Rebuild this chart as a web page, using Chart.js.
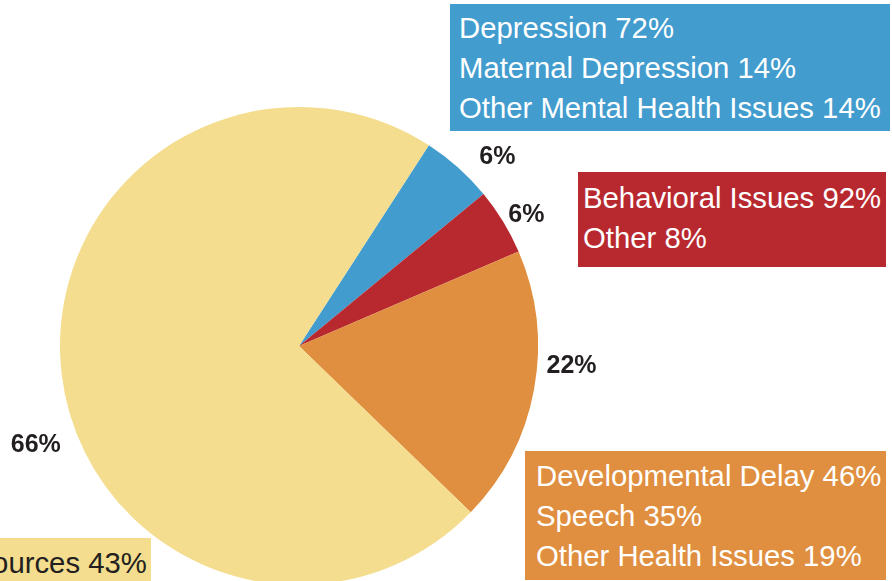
<!DOCTYPE html>
<html>
<head>
<meta charset="utf-8">
<script src="https://cdn.jsdelivr.net/npm/chart.js@4"></script>
<style>
  html, body { margin: 0; padding: 0; background: #fff; }
  body { width: 892px; height: 581px; overflow: hidden; position: relative; font-family: "Liberation Sans", Arial, sans-serif; }
  #wrap { position: absolute; left: 0; top: 0; width: 892px; height: 700px; }
  .callout { position: absolute; color: #fff; font-size: 29.3px; line-height: 40px; white-space: nowrap; box-sizing: border-box; }
  .callout.dark { color: #231f20; }
</style>
</head>
<body>
<div id="wrap"><canvas id="pie" width="892" height="700"></canvas></div>
<div class="callout" id="box-blue" style="left:450px;top:4px;width:440px;height:127px;padding:4px 0 0 9px;"></div>
<div class="callout" id="box-red" style="left:578px;top:172px;width:308px;height:95px;padding:6px 0 0 5px;"></div>
<div class="callout" id="box-orange" style="left:525px;top:451px;width:361px;height:129px;padding:5px 0 0 11px;"></div>
<div class="callout dark" id="box-yellow" style="left:-60px;top:538px;width:211px;height:60px;padding:5px 6px 0 0;text-align:right;"></div>

<script>
// slices, clockwise from the blue one
const categories = ['Mental Health', 'Behavioral', 'Health & Development', 'Resources']
const sliceValues = [4.9, 4.5, 18.7, 71.9]
const sliceLabels = ['6%', '6%', '22%', '66%']
const sliceColors = ['#429cce', '#b8282f', '#e08f40', '#f4dd8e']

// breakdown text in the boxes
const mentalHealthLines = ['Depression 72%', 'Maternal Depression 14%', 'Other Mental Health Issues 14%']
const behavioralLines = ['Behavioral Issues 92%', 'Other 8%']
const developmentLines = ['Developmental Delay 46%', 'Speech 35%', 'Other Health Issues 19%']
const resourceLines = ['Resources 43%']

// fill the boxes
const boxes = [
  ['box-blue', mentalHealthLines, 0],
  ['box-red', behavioralLines, 1],
  ['box-orange', developmentLines, 2],
  ['box-yellow', resourceLines, 3]
]
boxes.forEach(([id, lines, i]) => {
  const el = document.getElementById(id)
  el.style.background = sliceColors[i]
  lines.forEach(t => {
    const d = document.createElement('div')
    d.textContent = t
    el.appendChild(d)
  })
})

// label nudges (px) from the default outside point
const labelNudge = [[18, 13], [-4, 10], [6, -29], [6, 68]]

const outsideLabels = {
  id: 'outsideLabels',
  afterDatasetsDraw(chart) {
    const ctx = chart.ctx
    const arcs = chart.getDatasetMeta(0).data
    ctx.save()
    ctx.font = 'bold 25px "Liberation Sans", Arial, sans-serif'
    ctx.fillStyle = '#231f20'
    ctx.textAlign = 'center'
    ctx.textBaseline = 'middle'
    arcs.forEach((arc, i) => {
      const p = arc.getProps(['x', 'y', 'startAngle', 'endAngle', 'outerRadius'], true)
      const mid = (p.startAngle + p.endAngle) / 2
      const r = p.outerRadius + 32
      const x = p.x + Math.cos(mid) * r + labelNudge[i][0]
      const y = p.y + Math.sin(mid) * r + labelNudge[i][1]
      ctx.fillText(sliceLabels[i], x, y)
    })
    ctx.restore()
  }
}

new Chart(document.getElementById('pie'), {
  type: 'pie',
  data: {
    labels: categories,
    datasets: [{
      data: sliceValues,
      backgroundColor: sliceColors,
      borderWidth: 0
    }]
  },
  options: {
    responsive: false,
    animation: false,
    rotation: 32.9,
    layout: { padding: { left: 60, top: 107, right: 354, bottom: 115 } },
    plugins: {
      legend: { display: false },
      tooltip: { enabled: false }
    }
  },
  plugins: [outsideLabels]
})
</script>
</body>
</html>
